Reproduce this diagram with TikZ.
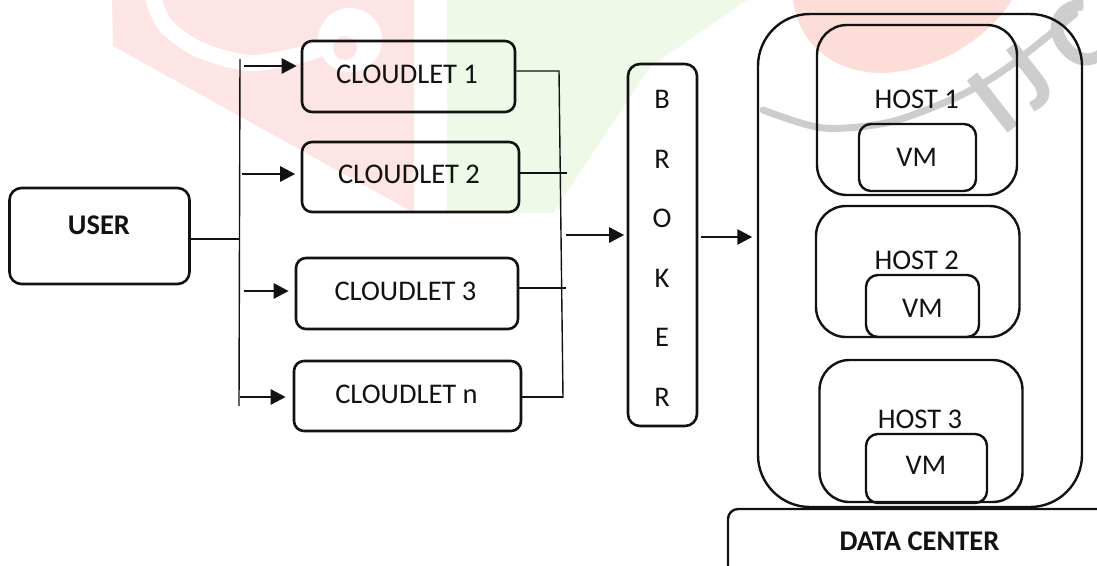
\documentclass[tikz,border=0pt]{standalone}
\usepackage{fontspec}
\setmainfont{Carlito}
\usetikzlibrary{arrows.meta}

\definecolor{wmpink}{RGB}{254,229,229}
\definecolor{wmred}{RGB}{253,221,215}
\definecolor{wmgreen}{RGB}{238,249,231}
\definecolor{wmgrey}{RGB}{205,205,205}
\definecolor{ink}{RGB}{18,18,18}

\tikzset{
  box/.style={draw=ink, line width=2.6pt, rounded corners=10pt, inner sep=0pt},
  lbl/.style={inner sep=0pt, text=ink, font=\fontsize{28.5}{34}\selectfont},
  blbl/.style={lbl, font=\fontsize{28.5}{34}\selectfont\bfseries},
  wire/.style={draw=ink, line width=1.4pt},
  arr/.style={draw=ink, line width=2.6pt, -{Triangle[length=15pt,width=15pt]}},
  wmtext/.style={text=wmgrey, inner sep=0pt, rotate=38,
    font=\fontsize{102}{102}\selectfont\bfseries}
}

\begin{document}
\begin{tikzpicture}[x=1pt,y=-1pt]
\useasboundingbox (0,0) rectangle (1097,565);
\clip (0,0) rectangle (1097,565);

% faint logo printed behind the figure
\begin{scope}
  \fill[wmpink] (112,0) -- (414,0) -- (414,213) -- (113,46) -- cycle;
  \draw[white, line width=16pt, line cap=round]
    plot[smooth] coordinates {(152,-5) (165,25) (200,50) (250,63) (300,55) (330,45)};
  \fill[white] (350,40) circle (32);
  \fill[wmpink] (345,48) circle (12);
  \fill[wmgreen] (447,0) -- (747,0) -- (650,67) -- (553,213) -- (447,213) -- cycle;
  \fill[wmred] (793,0) .. controls (800,55) and (850,78) .. (895,72)
     .. controls (945,66) and (990,35) .. (1012,0) -- cycle;
  \draw[wmgrey, line width=7pt, line cap=round]
    plot[smooth] coordinates {(763,110) (823,128) (890,122) (957,97) (1007,68) (1075,14)};
  \node[wmtext, anchor=base west] (wmlogo) at (1002,138)
    {I\hspace{14pt}J\hspace{22pt}C};
\end{scope}

% user
\node[box, rounded corners=12pt, minimum width=180pt, minimum height=96pt] (user) at (99.5,236) {};
\node[blbl] (tuser) at (99,225) {USER};

% cloudlets
\node[box, minimum width=213pt, minimum height=71pt] (c1) at (408.5,76.5) {};
\node[box, minimum width=217pt, minimum height=70pt] (c2) at (410.5,177) {};
\node[box, minimum width=222pt, minimum height=71pt] (c3) at (407,293.5) {};
\node[box, minimum width=227pt, minimum height=70pt] (cn) at (407.5,396) {};
\node[lbl] (tc1) at (407,74) {CLOUDLET 1};
\node[lbl] (tc2) at (409,174) {CLOUDLET 2};
\node[lbl] (tc3) at (405.5,291) {CLOUDLET 3};
\node[lbl, anchor=base] (tcn) at (406.5,403) {CLOUDLET n};

% broker
\node[box, rounded corners=12pt, minimum width=69pt, minimum height=362pt] (broker) at (662.5,245) {};
\foreach \ch [count=\i from 0] in {B,R,O,K,E,R}
  \node[lbl] (tb\i) at (662,99.5+59.5*\i) {\ch};

% data centre with its hosts
\node[box, line width=2.4pt, rounded corners=52pt, minimum width=324pt, minimum height=493pt] (dc) at (920,260.5) {};
\node[box, line width=2.4pt, rounded corners=30pt, minimum width=200pt, minimum height=170pt] (h1) at (917,110) {};
\node[box, line width=2.4pt, rounded corners=30pt, minimum width=203.5pt, minimum height=131pt] (h2) at (917.75,271.5) {};
\node[box, line width=2.4pt, rounded corners=30pt, minimum width=203pt, minimum height=142pt] (h3) at (921,431) {};
\node[box, line width=2.4pt, rounded corners=12pt, minimum width=117pt, minimum height=67pt] (vm1) at (917.5,157.5) {};
\node[box, line width=2.4pt, rounded corners=12pt, minimum width=113pt, minimum height=62pt] (vm2) at (922.5,306) {};
\node[box, line width=2.4pt, rounded corners=12pt, minimum width=121pt, minimum height=69pt] (vm3) at (926.5,468.5) {};
\node[lbl] (th1) at (916.7,99) {HOST 1};
\node[lbl] (th2) at (916.7,260) {HOST 2};
\node[lbl] (th3) at (920,419.7) {HOST 3};
\node[lbl] (tvm1) at (916.7,157.3) {VM};
\node[lbl] (tvm2) at (922.5,308.3) {VM};
\node[lbl] (tvm3) at (926,465.5) {VM};

\node[box, line width=2.4pt, minimum width=402pt, minimum height=91pt] (dcbase) at (929,554.5) {};
\node[blbl] (tdc) at (919.5,540.8) {DATA CENTER};

% user to the cloudlets
\coordinate (bt) at (240,59);
\coordinate (bb) at (239,406);
\coordinate (uj) at (240,239);
\draw[wire] (bt) -- (bb);
\draw[wire] (uj -| user.east) -- (uj);
\coordinate (a1) at (244,66);
\coordinate (a2) at (242,174);
\coordinate (a3) at (244,291);
\coordinate (an) at (240,397);
\draw[arr, shorten >=4pt] (a1) -- (a1 -| c1.west);
\draw[arr, shorten >=5.5pt] (a2) -- (a2 -| c2.west);
\draw[arr, shorten >=6pt] (a3) -- (a3 -| c3.west);
\draw[arr, shorten >=7pt] (an) -- (an -| cn.west);

% cloudlets to the broker
\coordinate (r1) at (559,71);
\coordinate (r2) at (567,173);
\coordinate (r3) at (566,288);
\coordinate (rn) at (563,397);
\coordinate (rb) at (563,398);
\draw[wire] (r1 -| c1.east) -- (r1) -- (rb);
\draw[wire] (r2 -| c2.east) -- (r2);
\draw[wire] (r3 -| c3.east) -- (r3);
\draw[wire] (rn -| cn.east) -- (rn);
\coordinate (bin) at (566,235);
\draw[arr, shorten >=2.5pt] (bin) -- (bin -| broker.west);

% broker to the data centre
\coordinate (dcin) at (701,237);
\draw[arr, shorten >=4.5pt] (dcin) -- (dcin -| dc.west);
\end{tikzpicture}
\end{document}
